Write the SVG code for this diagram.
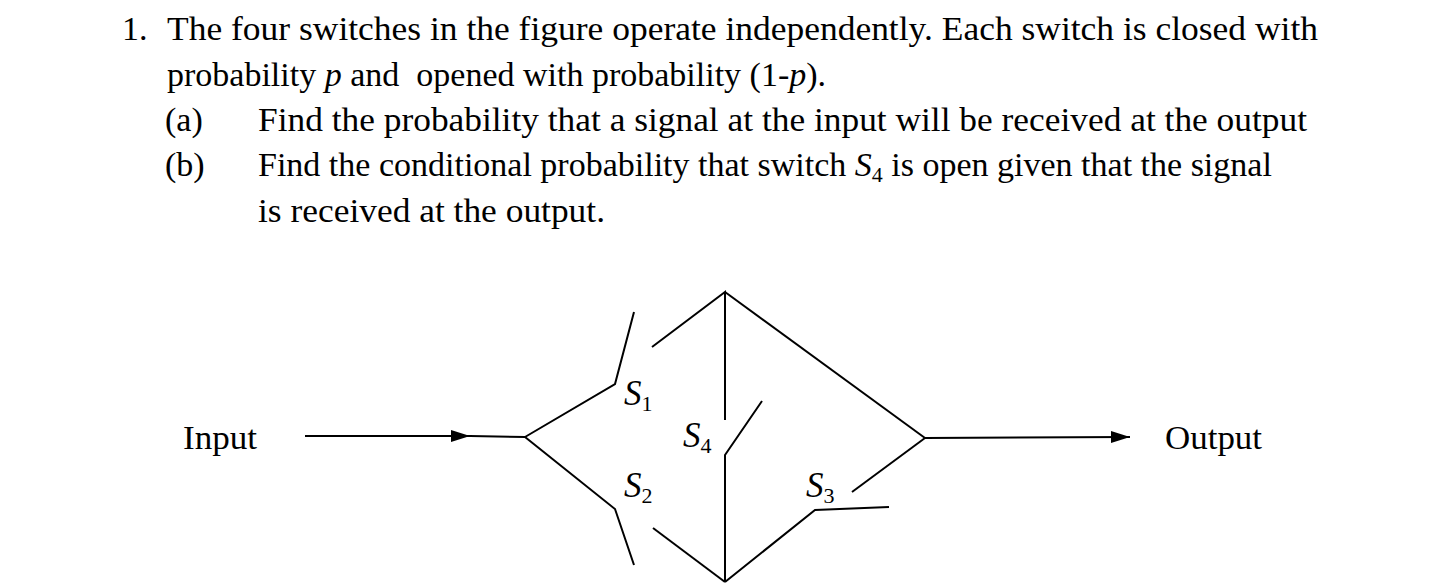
<svg xmlns="http://www.w3.org/2000/svg" width="1450" height="588" viewBox="0 0 1450 588">
<style>
text{font-family:"Liberation Serif","Times New Roman",serif;font-size:34px;fill:#000}
.i{font-style:italic}
.sub{font-size:22px;font-style:normal}
.lab{font-size:35px}
line,polyline{stroke:#000;stroke-width:2;fill:none}
</style>
<defs>
<marker id="ah" markerWidth="20" markerHeight="14" refX="19" refY="7" orient="auto" markerUnits="userSpaceOnUse"><path d="M0,1 L19,7 L0,13 Z"/></marker></defs>
<g id="question">
<text x="122" y="40">1.</text>
<text x="167" y="40" textLength="1151" lengthAdjust="spacingAndGlyphs">The four switches in the figure operate independently. Each switch is closed with</text>
<text x="167" y="86" xml:space="preserve">probability <tspan class="i">p</tspan> and  opened with probability (1-<tspan class="i">p</tspan>).</text>
<text x="165" y="131">(a)</text>
<text x="258" y="131" textLength="1049" lengthAdjust="spacingAndGlyphs">Find the probability that a signal at the input will be received at the output</text>
<text x="165" y="176">(b)</text>
<text x="258" y="176">Find the conditional probability that switch <tspan class="i">S</tspan><tspan class="sub" dy="6">4</tspan><tspan dy="-6"> is open given that the signal</tspan></text>
<text x="258" y="222" textLength="347" lengthAdjust="spacingAndGlyphs">is received at the output.</text>
</g>
<g id="input"><text x="183" y="449" textLength="74" lengthAdjust="spacingAndGlyphs">Input</text></g>
<g id="output"><text x="1165" y="449" textLength="97" lengthAdjust="spacingAndGlyphs">Output</text></g>
<g id="S1"><text x="624" y="405" class="i lab">S<tspan class="sub" dy="6">1</tspan></text></g>
<g id="S2"><text x="624" y="497" class="i lab">S<tspan class="sub" dy="6">2</tspan></text></g>
<g id="S3"><text x="806" y="497" class="i lab">S<tspan class="sub" dy="6">3</tspan></text></g>
<g id="S4"><text x="683" y="447" class="i lab">S<tspan class="sub" dy="6">4</tspan></text></g>
<g id="connectors">
<line x1="305" y1="436" x2="470" y2="436" marker-end="url(#ah)"/>
<line x1="470" y1="436" x2="525" y2="437"/>
<polyline points="525,437 615,384 634,312"/>
<polyline points="652,347 725,292 725,420"/>
<polyline points="762,401 725,455 725,582"/>
<line x1="725" y1="292" x2="925" y2="438"/>
<line x1="925" y1="438" x2="1130" y2="437" marker-end="url(#ah)"/>
<line x1="925" y1="438" x2="852" y2="492"/>
<polyline points="889,507 815,510 725,582"/>
<polyline points="525,437 615,509 634,565"/>
<line x1="653" y1="528" x2="725" y2="582"/>
</g>
</svg>
